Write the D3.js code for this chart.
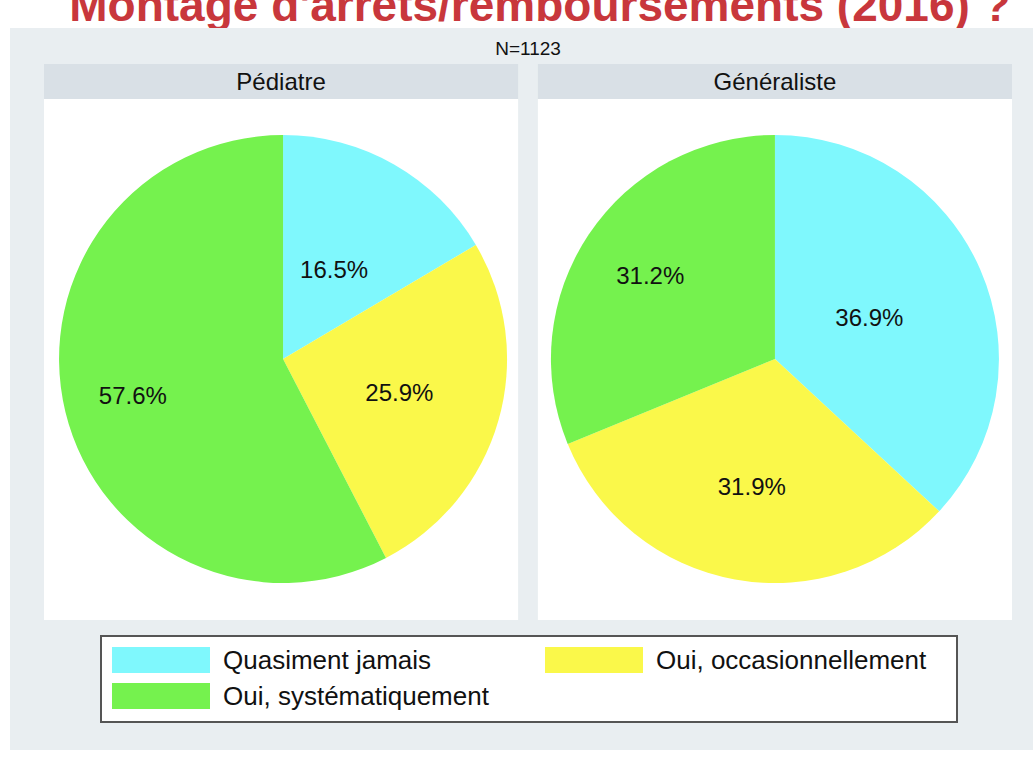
<!DOCTYPE html>
<html><head><meta charset="utf-8">
<script src="https://cdn.jsdelivr.net/npm/d3@7/dist/d3.min.js"></script>
<style>body{margin:0;background:#fff;} svg{display:block;font-family:"Liberation Sans",Arial,sans-serif;}</style>
</head><body>
<svg id="c" width="1033" height="758"></svg>
<script>
const titleText = "Montage d'arrêts/remboursements (2016) ?";
const subtitle = "N=1123";
const panels = ["Pédiatre", "Généraliste"];
const categories = ["Quasiment jamais", "Oui, occasionnellement", "Oui, systématiquement"];
const pediatreValues = [16.5, 25.9, 57.6];
const generalisteValues = [36.9, 31.9, 31.2];
const colors = ["#7ff8fd", "#faf84a", "#75f24e"];
const labelDist = [[0.46, 0.54, 0.69], [0.46, 0.58, 0.67]];

const svg = d3.select("#c");
// title (cut off at top, as in the reference)
svg.append("text").attr("x", 540).attr("y", 21).attr("text-anchor", "middle")
  .attr("font-size", 46).attr("font-weight", "bold").attr("fill", "#c8373c").text(titleText);
// outer background
svg.append("rect").attr("x", 10).attr("y", 28).attr("width", 1023).attr("height", 722).attr("fill", "#e9eef1");
svg.append("text").attr("x", 528).attr("y", 55).attr("text-anchor", "middle").attr("font-size", 19).attr("fill", "#111").text(subtitle);

const px = d3.scaleBand().domain(panels).range([44, 1012]).paddingInner(0.04);
const series = [pediatreValues, generalisteValues];
const color = d3.scaleOrdinal().domain(categories).range(colors);
const pie = d3.pie().sort(null).value(d => d.v);
const R = 224;
const arc = d3.arc().innerRadius(0).outerRadius(R);

panels.forEach((p, i) => {
  const x0 = px(p), w = px.bandwidth();
  svg.append("rect").attr("x", x0).attr("y", 64).attr("width", w).attr("height", 35).attr("fill", "#d9e0e6");
  svg.append("text").attr("x", x0 + w / 2).attr("y", 90).attr("text-anchor", "middle").attr("font-size", 24).attr("fill", "#111").text(p);
  svg.append("rect").attr("x", x0).attr("y", 99).attr("width", w).attr("height", 521).attr("fill", "#ffffff");
  const g = svg.append("g").attr("transform", `translate(${x0 + w / 2 + (i === 0 ? 2 : 0)},359)`);
  const data = categories.map((c, k) => ({c, v: series[i][k]}));
  const arcs = pie(data);
  g.selectAll("path").data(arcs).join("path").attr("d", arc).attr("fill", d => color(d.data.c));
  g.selectAll("text").data(arcs).join("text")
    .attr("transform", (d, k) => {
      const a = (d.startAngle + d.endAngle) / 2, r = R * labelDist[i][k];
      return `translate(${Math.sin(a) * r},${-Math.cos(a) * r})`;
    })
    .attr("text-anchor", "middle").attr("dy", "0.35em").attr("font-size", 24).attr("fill", "#111")
    .text(d => d.data.v.toFixed(1) + "%");
});

// legend
const lg = svg.append("g");
lg.append("rect").attr("x", 101).attr("y", 636).attr("width", 856).attr("height", 86)
  .attr("fill", "#fff").attr("stroke", "#555").attr("stroke-width", 2);
const legPos = [[112, 647], [545, 647], [112, 683]];
categories.forEach((c, k) => {
  const [lx, ly] = legPos[k];
  lg.append("rect").attr("x", lx).attr("y", ly).attr("width", 98).attr("height", 26).attr("fill", color(c));
  lg.append("text").attr("x", lx + 111).attr("y", ly + 13).attr("dy", "0.35em").attr("font-size", 26).attr("fill", "#111").text(c);
});
</script>
</body></html>
